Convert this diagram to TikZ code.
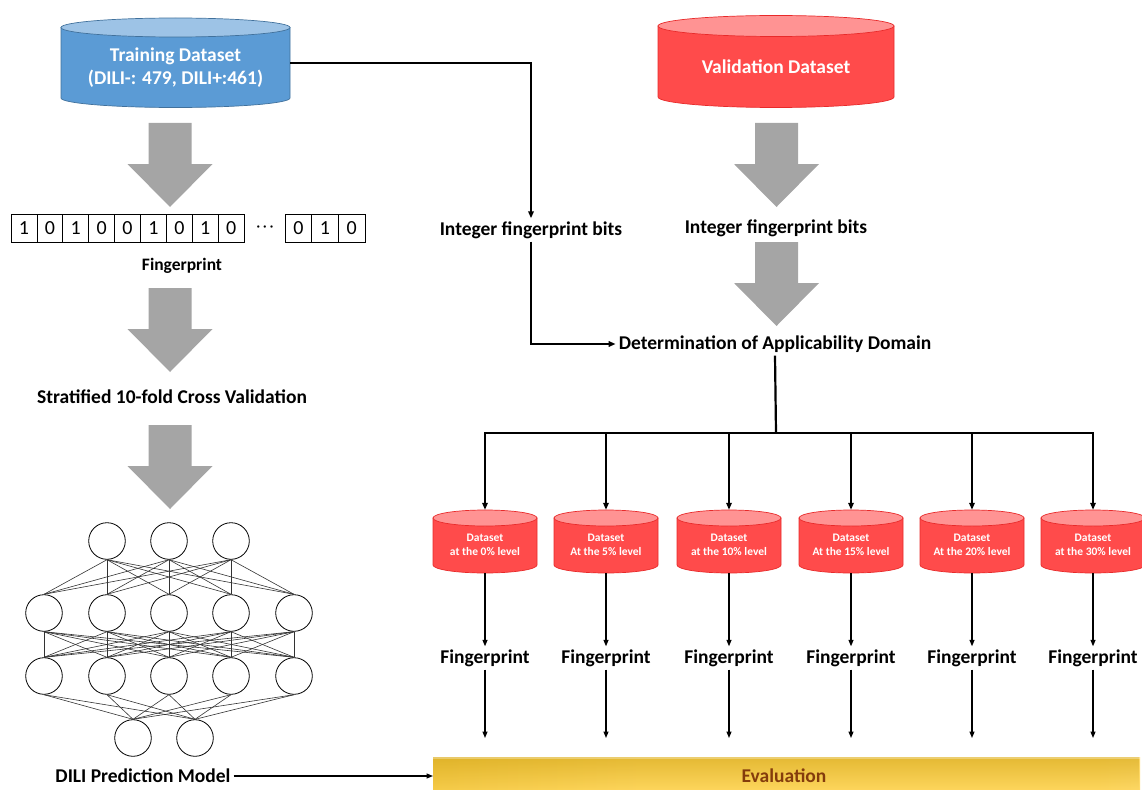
\documentclass[tikz,border=0pt]{standalone}
\usepackage{fontspec}
\setmainfont{Carlito}
\usetikzlibrary{arrows.meta,fadings}
\definecolor{tbbody}{HTML}{5B9BD5}
\definecolor{tbtop}{HTML}{9DC3E6}
\definecolor{tbedge}{HTML}{41719C}
\definecolor{vrbody}{HTML}{FF4B4B}
\definecolor{vrtop}{HTML}{FF9393}
\definecolor{vredge}{HTML}{E82A2A}
\definecolor{agray}{HTML}{A5A5A5}
\definecolor{evtext}{HTML}{843C0C}
\definecolor{goldA}{HTML}{C49500}
\definecolor{goldM}{HTML}{EDC035}
\definecolor{goldB}{HTML}{FFD75E}
\definecolor{goldC}{HTML}{FFE9AE}
\pgfdeclarehorizontalshading{evalshade}{100bp}{color(0bp)=(goldA); color(8bp)=(goldM); color(40bp)=(goldB); color(72bp)=(goldB); color(100bp)=(goldC)}
% #1 name, #2 cx, #3 top ellipse cy, #4 rx, #5 bottom ellipse cy, #6 ry, #7 colour prefix
\newcommand\dbcyl[7]{%
  \path[fill=#7body, draw=#7edge, line width=0.7pt] (#2-#4,#3) -- (#2-#4,#5)
    arc[start angle=180, end angle=0, x radius=#4, y radius=#6] -- (#2+#4,#3) -- cycle;
  \path[fill=#7top, draw=#7edge, line width=0.7pt] (#2,#3) ellipse[x radius=#4, y radius=#6];
  \node[inner sep=0, minimum width={2*#4*1pt}, minimum height={(#5-#3+2*#6)*1pt}] (#1) at (#2,{(#3+#5)/2}) {};
}
\newcommand\blockarr[2]{%
  \fill[agray] (#1-21.5,#2) -- (#1+21.5,#2) -- (#1+21.5,#2+41) -- (#1+42.5,#2+41)
    -- (#1,#2+84) -- (#1-42.5,#2+41) -- (#1-21.5,#2+41) -- cycle;}
\begin{document}
\begin{tikzpicture}[x=1pt,y=-1pt,
  lbl/.style={font=\bfseries\fontsize{19.5}{22}\selectfont, inner sep=3pt},
  cyltext/.style={font=\bfseries\fontsize{19.5}{23}\selectfont, text=white, align=center, inner sep=0},
  smalltext/.style={font=\bfseries\fontsize{11.5}{14}\selectfont, text=white, align=center, inner sep=0},
  bit/.style={draw, line width=0.8pt, minimum height=28pt, inner sep=0, font=\fontsize{20}{22}\selectfont},
  neuron/.style={circle, draw, line width=0.8pt, minimum size=36.6pt, inner sep=0},
  syn/.style={black!80, line width=0.6pt},
  conn/.style={line width=1.8pt, -{Triangle[length=7pt,width=5.5pt]}},
  thin/.style={line width=1.2pt, -{Triangle[length=6.5pt,width=5pt]}},
]
\useasboundingbox (0,0) rectangle (1142,789);

% ---------- cylinders ----------
\dbcyl{train}{175.5}{27.5}{114.5}{98}{9.5}{tb}
\node[cyltext] (traintext) at (175.5,68) {Training Dataset\\(DILI-: 479, DILI+:461)};
\dbcyl{valid}{776}{26}{118}{97}{10.5}{vr}
\node[cyltext] (validtext) at (776,67) {Validation Dataset};

% ---------- gray block arrows ----------
\blockarr{170}{123}
\blockarr{170}{288}
\blockarr{170}{425}
\blockarr{776.5}{123}
\blockarr{776.5}{242}

% ---------- fingerprint bits ----------
\foreach \v [count=\i] in {1,0,1,0,0,1,0,1,0}
  \node[bit, minimum width=25.9pt] (b\i) at ({11+25.9*(\i-0.5)},228) {\v};
\node[font=\fontsize{16}{18}\selectfont, inner sep=0] (dots) at (265,229) {·\hspace{2.5pt}·\hspace{2.5pt}·};
\foreach \v [count=\i] in {0,1,0}
  \node[bit, minimum width=26.7pt] (c\i) at ({285+26.7*(\i-0.5)},228) {\v};
\node[lbl, font=\bfseries\fontsize{17.5}{20}\selectfont] (fplabel) at (182,266) {Fingerprint};

\node[lbl] (strat) at (172,397) {Stratified 10-fold Cross Validation};

% ---------- neural network ----------
\foreach \x [count=\i] in {107,169,231} \node[neuron] (na\i) at (\x,541) {};
\foreach \x [count=\i] in {44,107,169,231,294} \node[neuron] (nb\i) at (\x,613) {};
\foreach \x [count=\i] in {44,107,169,231,294} \node[neuron] (nc\i) at (\x,676) {};
\foreach \x [count=\i] in {133,195} \node[neuron] (nd\i) at (\x,738) {};
\foreach \i in {1,2,3} \foreach \j in {1,...,5} \draw[syn] (na\i.south) -- (nb\j.north);
\foreach \i in {1,...,5} \foreach \j in {1,...,5} \draw[syn] (nb\i.south) -- (nc\j.north);
\foreach \i in {1,...,5} \foreach \j in {1,2} \draw[syn] (nc\i.south) -- (nd\j.north);
\node[lbl] (dili) at (143,776) {DILI Prediction Model};

% ---------- right side texts ----------
\node[lbl] (int1) at (531,230) {Integer fingerprint bits};
\node[lbl] (int2) at (776,228) {Integer fingerprint bits};
\node[lbl] (det) at (775,344) {Determination of Applicability Domain};

\draw[conn] (train.east) -| (int1.north);
\draw[conn] (int1.south) |- (det.west);

\coordinate (bus) at (776,433);
\draw[line width=2.2pt] (det.south) -- (bus);

% ---------- small cylinders ----------
\foreach \cx/\lab [count=\k] in {485/{at the 0\% level},606/{At the 5\% level},729/{at the 10\% level},851/{At the 15\% level},972/{At the 20\% level},1093/{at the 30\% level}}{
  \dbcyl{d\k}{\cx}{518}{52}{565}{8}{vr}
  \node[smalltext] (dt\k) at (\cx,545) {Dataset\\\lab};
  \draw[line width=1.6pt, -{Triangle[length=7pt,width=5.5pt]}] (bus) -| (d\k.north);
  \node[lbl] (fp\k) at (\cx,658) {Fingerprint};
  \draw[thin] (d\k.south) -- (fp\k.north);
  \coordinate (e\k) at (\cx,738);
  \draw[thin] (fp\k.south) -- (e\k);
}

% ---------- evaluation bar ----------
\node[anchor=north west, minimum width=707pt, minimum height=34pt, inner sep=0,
      shading=evalshade] (eval) at (433,757) {};
\fill[goldA, path fading=south, opacity=0.45] (eval.north west) rectangle (eval.south east);
\fill[white, opacity=0.3] (eval.north west) rectangle ([yshift=-1.5pt]eval.north east);
\node[lbl, text=evtext] (evaltext) at (784,776) {Evaluation};
\draw[thin] (dili.east) -- (dili.east -| eval.west);
\end{tikzpicture}
\end{document}
